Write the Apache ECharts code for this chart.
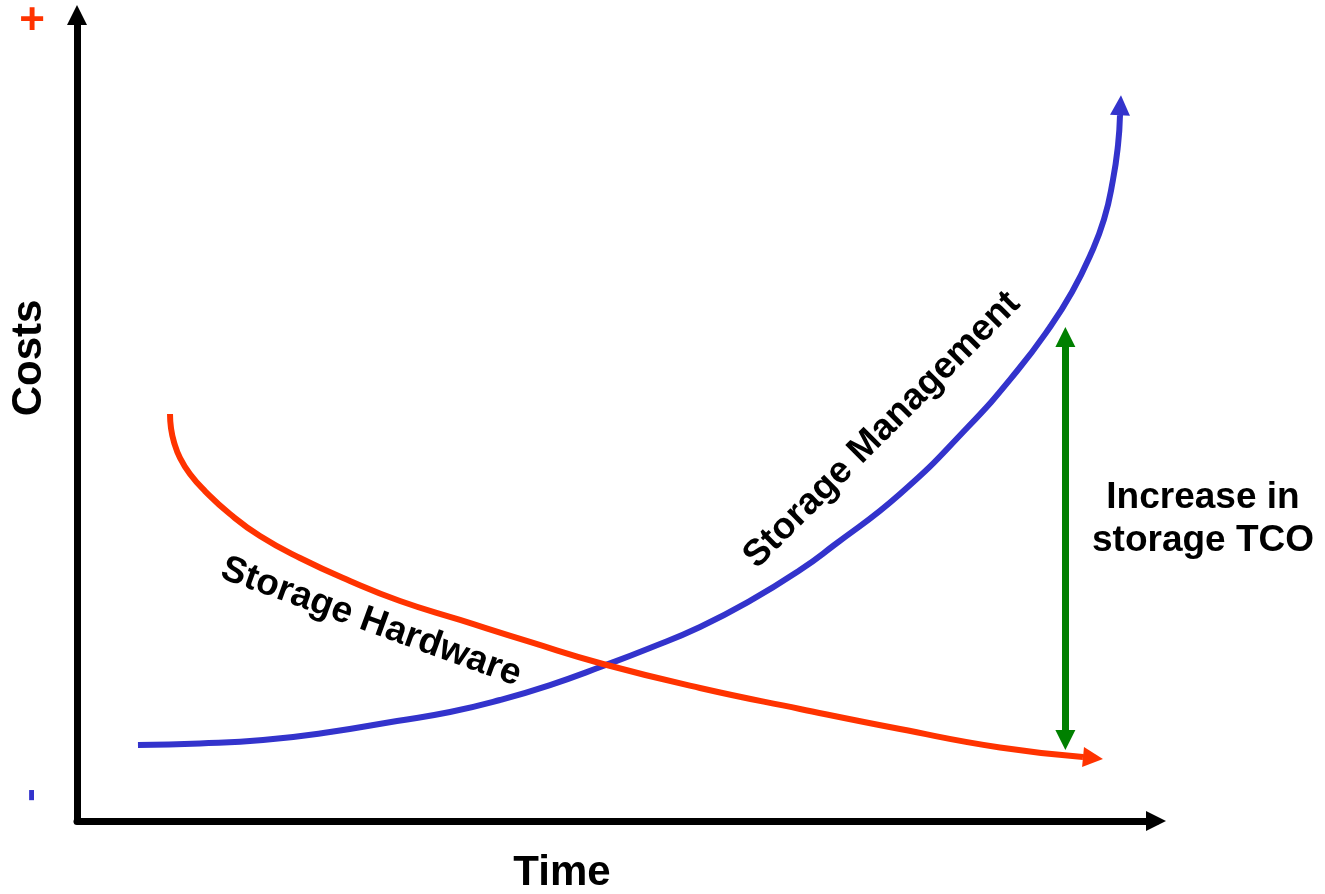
<!DOCTYPE html>
<html><head><meta charset="utf-8">
<script src="https://cdn.jsdelivr.net/npm/echarts@6/dist/echarts.min.js"></script>
<style>html,body{margin:0;padding:0;background:#fff}#c{width:1325px;height:894px}</style>
</head><body><div id="c"></div>
<script>
// Time (0-100) and cost (0-100) values
const managementTime = [5.65, 11.4, 17.24, 23.45, 29.66, 34.57, 39.2, 43.84, 48.75, 53.1, 57.74, 62.37, 67.01, 70.06, 76.27, 82.48, 87.12, 90.18, 92.22, 93.88, 95.18, 96.01, 96.48, 96.66];
const managementCost = [9.43, 9.62, 10.05, 11.04, 12.41, 13.52, 15.01, 16.87, 19.23, 21.46, 24.07, 27.3, 31.14, 34.12, 40.57, 48.76, 55.83, 61.29, 65.63, 70.1, 74.63, 79.53, 83.87, 87.47];
const managementHead = [96.71, 88.8];

const hardwareTime = [8.62, 8.71, 8.99, 9.55, 10.47, 11.86, 14.18, 16.96, 20.67, 25.3, 29.94, 35.5, 41.98, 48.75, 57.74, 67.01, 76.27, 85.54, 93.23];
const hardwareCost = [50.5, 48.76, 47.02, 45.04, 43.05, 40.94, 38.09, 35.36, 32.63, 29.78, 27.3, 24.94, 22.21, 19.48, 16.5, 13.9, 11.41, 9.12, 7.94];
const hardwareHead = [94.16, 7.82];

const tcoTime = 91.6;
const tcoLow = 10.05;
const tcoHigh = 60.05;

const seriesNames = ['Storage Management', 'Storage Hardware'];
const tcoLabel = 'Increase in\nstorage TCO';

const BLUE = '#3333CC', RED = '#FF3300', GREEN = '#008000';
const FONT = 'Liberation Sans, Arial, sans-serif';

function zip(a, b) { return a.map((v, i) => [v, b[i]]); }

const chart = echarts.init(document.getElementById('c'));
const mgmt = zip(managementTime, managementCost);
const hw = zip(hardwareTime, hardwareCost);

function arrowLine(color, width, from, to, syms) {
  return {
    silent: true, animation: false,
    symbol: syms, symbolSize: 20,
    label: { show: false },
    lineStyle: { color: color, width: width, type: 'solid', opacity: 1 },
    emphasis: { disabled: true },
    data: [[{ coord: from }, { coord: to }]]
  };
}

chart.setOption({
  animation: false,
  grid: { left: 77, right: 169, top: 15, bottom: 73 },
  xAxis: {
    type: 'value', min: 0, max: 100,
    axisLine: { show: true, onZero: false, symbol: ['none', 'triangle'], symbolSize: [20, 20], lineStyle: { color: '#000', width: 7 } },
    axisTick: { show: false }, axisLabel: { show: false }, splitLine: { show: false }
  },
  yAxis: {
    type: 'value', min: 0, max: 100,
    axisLine: { show: true, onZero: false, symbol: ['none', 'triangle'], symbolSize: [20, 20], lineStyle: { color: '#000', width: 7 } },
    axisTick: { show: false }, axisLabel: { show: false }, splitLine: { show: false }
  },
  series: [
    {
      name: seriesNames[0], type: 'line', data: mgmt, smooth: true, symbol: 'none', z: 2,
      lineStyle: { color: BLUE, width: 6 },
      markLine: arrowLine(BLUE, 6, mgmt[mgmt.length - 1], managementHead, ['none', 'triangle'])
    },
    {
      name: seriesNames[1], type: 'line', data: hw, smooth: true, symbol: 'none', z: 3,
      lineStyle: { color: RED, width: 6 },
      markLine: arrowLine(RED, 6, hw[hw.length - 1], hardwareHead, ['none', 'triangle'])
    },
    {
      name: 'TCO', type: 'line', data: [[tcoTime, tcoLow], [tcoTime, tcoHigh]], symbol: 'none', z: 4,
      lineStyle: { opacity: 0 },
      markLine: arrowLine(GREEN, 7, [tcoTime, tcoLow], [tcoTime, tcoHigh], ['triangle', 'triangle'])
    }
  ],
  graphic: [
    { type: 'text', x: 32, y: 22, style: { text: '+', font: 'bold 44px ' + FONT, fill: RED, align: 'center', verticalAlign: 'middle' } },
    { type: 'text', x: 31, y: 795, rotation: Math.PI / 2, style: { text: '-', font: 'bold 40px ' + FONT, fill: BLUE, align: 'center', verticalAlign: 'middle' } },
    { type: 'text', x: 29, y: 358, rotation: Math.PI / 2, style: { text: 'Costs', font: 'bold 42px ' + FONT, fill: '#000', align: 'center', verticalAlign: 'middle' } },
    { type: 'text', x: 562, y: 873, style: { text: 'Time', font: 'bold 42px ' + FONT, fill: '#000', align: 'center', verticalAlign: 'middle' } },
    { type: 'text', x: 1203, y: 519, style: { text: tcoLabel, font: 'bold 37px ' + FONT, lineHeight: 43, fill: '#000', align: 'center', verticalAlign: 'middle' } },
    { type: 'text', x: 371, y: 622, rotation: -20 * Math.PI / 180, style: { text: seriesNames[1], font: 'bold 37px ' + FONT, fill: '#000', align: 'center', verticalAlign: 'middle' } },
    { type: 'text', x: 882, y: 430, rotation: 45 * Math.PI / 180, style: { text: seriesNames[0], font: 'bold 37px ' + FONT, fill: '#000', align: 'center', verticalAlign: 'middle' } }
  ]
});
</script></body></html>
